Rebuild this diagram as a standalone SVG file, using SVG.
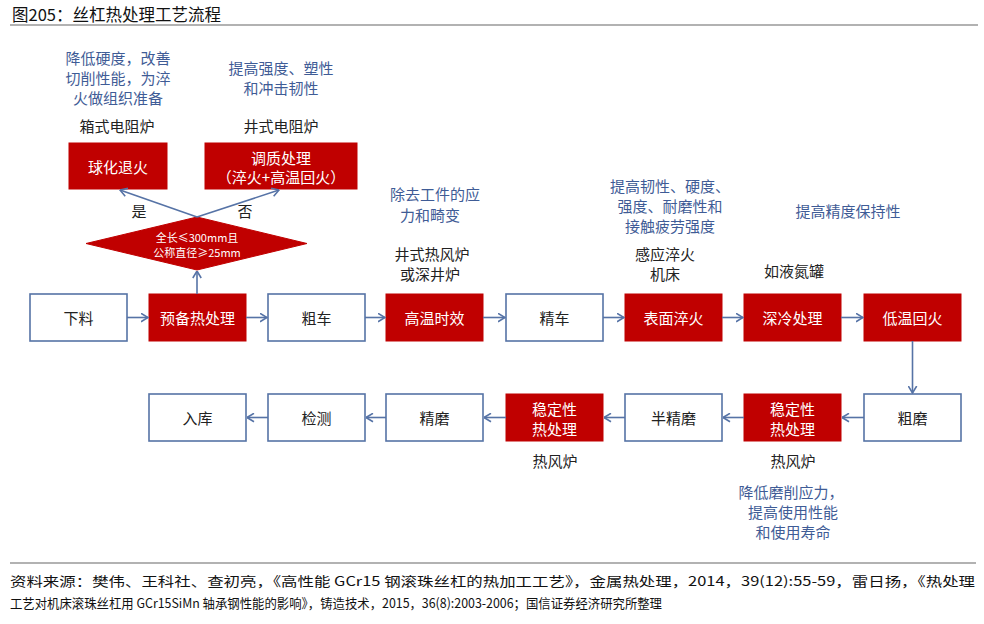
<svg xmlns="http://www.w3.org/2000/svg" width="984" height="624" viewBox="0 0 984 624">
<style>
text{font-family:"Noto Sans CJK SC","Liberation Sans",sans-serif;dominant-baseline:central;text-anchor:middle}
.red rect,.red polygon{fill:#C00000;stroke:#C00000;stroke-width:1}
.red text{fill:#fff;font-size:15px}
.white rect{fill:#fff;stroke:#5673A6;stroke-width:1.6}
.white text{fill:#222;font-size:15px}
.lbl{fill:#222;font-size:15px}
.note{fill:#3F5C96;font-size:15px}
#n_diamond text{fill:#fff;font-size:11px}
.conn line,.conn path{stroke:#5673A6;stroke-width:1.6;fill:none}
.rule{stroke:#666;stroke-width:1.2}
.src{fill:#111;font-size:13px;text-anchor:start;dominant-baseline:auto}
</style>
<defs>
<marker id="ah" viewBox="0 0 8 10" refX="7.5" refY="5" markerWidth="8" markerHeight="10" markerUnits="userSpaceOnUse" orient="auto">
<path d="M0.5,0.8 L7.5,5 L0.5,9.2" fill="none" stroke="#5673A6" stroke-width="1.6"/>
</marker>
</defs>
<rect width="984" height="624" fill="#fff"/>
<text x="12" y="14" style="text-anchor:start;font-size:16.5px;fill:#111">图205：丝杠热处理工艺流程</text>
<line class="rule" x1="10" y1="25" x2="978" y2="25"/>
<line class="rule" x1="10" y1="563" x2="976" y2="563"/>

<g id="n_xialiao" class="white"><rect x="30" y="294" width="97" height="47"/><text x="78.5" y="317.5">下料</text></g>
<g id="n_yubei" class="red"><rect x="149" y="294" width="97" height="47"/><text x="197.5" y="317.5">预备热处理</text></g>
<g id="n_cuche" class="white"><rect x="268" y="294" width="97" height="47"/><text x="316.5" y="317.5">粗车</text></g>
<g id="n_gaowen" class="red"><rect x="386" y="294" width="97" height="47"/><text x="434.5" y="317.5">高温时效</text></g>
<g id="n_jingche" class="white"><rect x="506" y="294" width="97" height="47"/><text x="554.5" y="317.5">精车</text></g>
<g id="n_biaomian" class="red"><rect x="625" y="294" width="97" height="47"/><text x="673.5" y="317.5">表面淬火</text></g>
<g id="n_shenleng" class="red"><rect x="744" y="294" width="97" height="47"/><text x="792.5" y="317.5">深冷处理</text></g>
<g id="n_diwen" class="red"><rect x="864" y="294" width="97" height="47"/><text x="912.5" y="317.5">低温回火</text></g>

<g id="n_cumo" class="white"><rect x="864" y="394" width="97" height="47"/><text x="912.5" y="417.5">粗磨</text></g>
<g id="n_wending1" class="red"><rect x="744" y="394" width="97" height="47"/><text x="792.5" y="408">稳定性</text><text x="792.5" y="428">热处理</text></g>
<g id="n_banjingmo" class="white"><rect x="625" y="394" width="97" height="47"/><text x="673.5" y="417.5">半精磨</text></g>
<g id="n_wending2" class="red"><rect x="506" y="394" width="97" height="47"/><text x="554.5" y="408">稳定性</text><text x="554.5" y="428">热处理</text></g>
<g id="n_jingmo" class="white"><rect x="386" y="394" width="97" height="47"/><text x="434.5" y="417.5">精磨</text></g>
<g id="n_jiance" class="white"><rect x="268" y="394" width="97" height="47"/><text x="316.5" y="417.5">检测</text></g>
<g id="n_ruku" class="white"><rect x="149" y="394" width="97" height="47"/><text x="197.5" y="417.5">入库</text></g>

<g id="n_qiuhua" class="red"><rect x="69" y="143" width="98" height="46"/><text x="118" y="166">球化退火</text></g>
<g id="n_tiaozhi" class="red"><rect x="205" y="143" width="152" height="46"/><text x="281" y="157">调质处理</text><text x="281" y="176">（淬火+高温回火）</text></g>
<g id="n_diamond" class="red"><polygon points="86,243.5 197,217 307,243.5 197,270"/><text x="197" y="237">全长≤300mm且</text><text x="197" y="252">公称直径≥25mm</text></g>

<g id="labels">
<text class="note" x="118" y="57">降低硬度，改善</text>
<text class="note" x="118" y="77">切削性能，为淬</text>
<text class="note" x="118" y="97">火做组织准备</text>
<text class="lbl" x="117" y="125">箱式电阻炉</text>
<text class="note" x="281" y="67">提高强度、塑性</text>
<text class="note" x="281" y="87">和冲击韧性</text>
<text class="lbl" x="281" y="125">井式电阻炉</text>
<text class="lbl" x="139" y="210">是</text>
<text class="lbl" x="245" y="210">否</text>
<text class="note" x="435" y="193">除去工件的应</text>
<text class="note" x="430" y="214">力和畸变</text>
<text class="lbl" x="432" y="253">井式热风炉</text>
<text class="lbl" x="430" y="273">或深井炉</text>
<text class="note" x="670" y="185">提高韧性、硬度、</text>
<text class="note" x="670" y="205">强度、耐磨性和</text>
<text class="note" x="670" y="225">接触疲劳强度</text>
<text class="lbl" x="665" y="253">感应淬火</text>
<text class="lbl" x="665" y="273">机床</text>
<text class="note" x="848" y="210">提高精度保持性</text>
<text class="lbl" x="794" y="270">如液氮罐</text>
<text class="lbl" x="555" y="460">热风炉</text>
<text class="lbl" x="793" y="460">热风炉</text>
<text class="note" x="791" y="491">降低磨削应力，</text>
<text class="note" x="793" y="511">提高使用性能</text>
<text class="note" x="793" y="531">和使用寿命</text>
</g>

<g id="connectors" class="conn">
<line x1="127" y1="317.5" x2="148" y2="317.5" marker-end="url(#ah)"/>
<line x1="246" y1="317.5" x2="267" y2="317.5" marker-end="url(#ah)"/>
<line x1="365" y1="317.5" x2="385" y2="317.5" marker-end="url(#ah)"/>
<line x1="483" y1="317.5" x2="505" y2="317.5" marker-end="url(#ah)"/>
<line x1="603" y1="317.5" x2="624" y2="317.5" marker-end="url(#ah)"/>
<line x1="722" y1="317.5" x2="743" y2="317.5" marker-end="url(#ah)"/>
<line x1="841" y1="317.5" x2="863" y2="317.5" marker-end="url(#ah)"/>
<line x1="912.5" y1="341" x2="912.5" y2="393" marker-end="url(#ah)"/>
<line x1="864" y1="417.5" x2="842" y2="417.5" marker-end="url(#ah)"/>
<line x1="744" y1="417.5" x2="723" y2="417.5" marker-end="url(#ah)"/>
<line x1="625" y1="417.5" x2="604" y2="417.5" marker-end="url(#ah)"/>
<line x1="506" y1="417.5" x2="484" y2="417.5" marker-end="url(#ah)"/>
<line x1="386" y1="417.5" x2="366" y2="417.5" marker-end="url(#ah)"/>
<line x1="268" y1="417.5" x2="247" y2="417.5" marker-end="url(#ah)"/>
<line x1="197" y1="294" x2="197" y2="271" marker-end="url(#ah)"/>
<line x1="197" y1="217" x2="120" y2="190" marker-end="url(#ah)"/>
<line x1="197" y1="217" x2="279" y2="190" marker-end="url(#ah)"/>
</g>

<text class="src" x="10" y="586" textLength="965" lengthAdjust="spacingAndGlyphs">资料来源：樊伟、王科社、查初亮，《高性能 GCr15 钢滚珠丝杠的热加工工艺》，金属热处理，2014，39(12):55-59，雷日扬，《热处理</text>
<text class="src" x="10" y="608" textLength="652" lengthAdjust="spacingAndGlyphs">工艺对机床滚珠丝杠用 GCr15SiMn 轴承钢性能的影响》，铸造技术，2015，36(8):2003-2006；国信证券经济研究所整理</text>
</svg>
